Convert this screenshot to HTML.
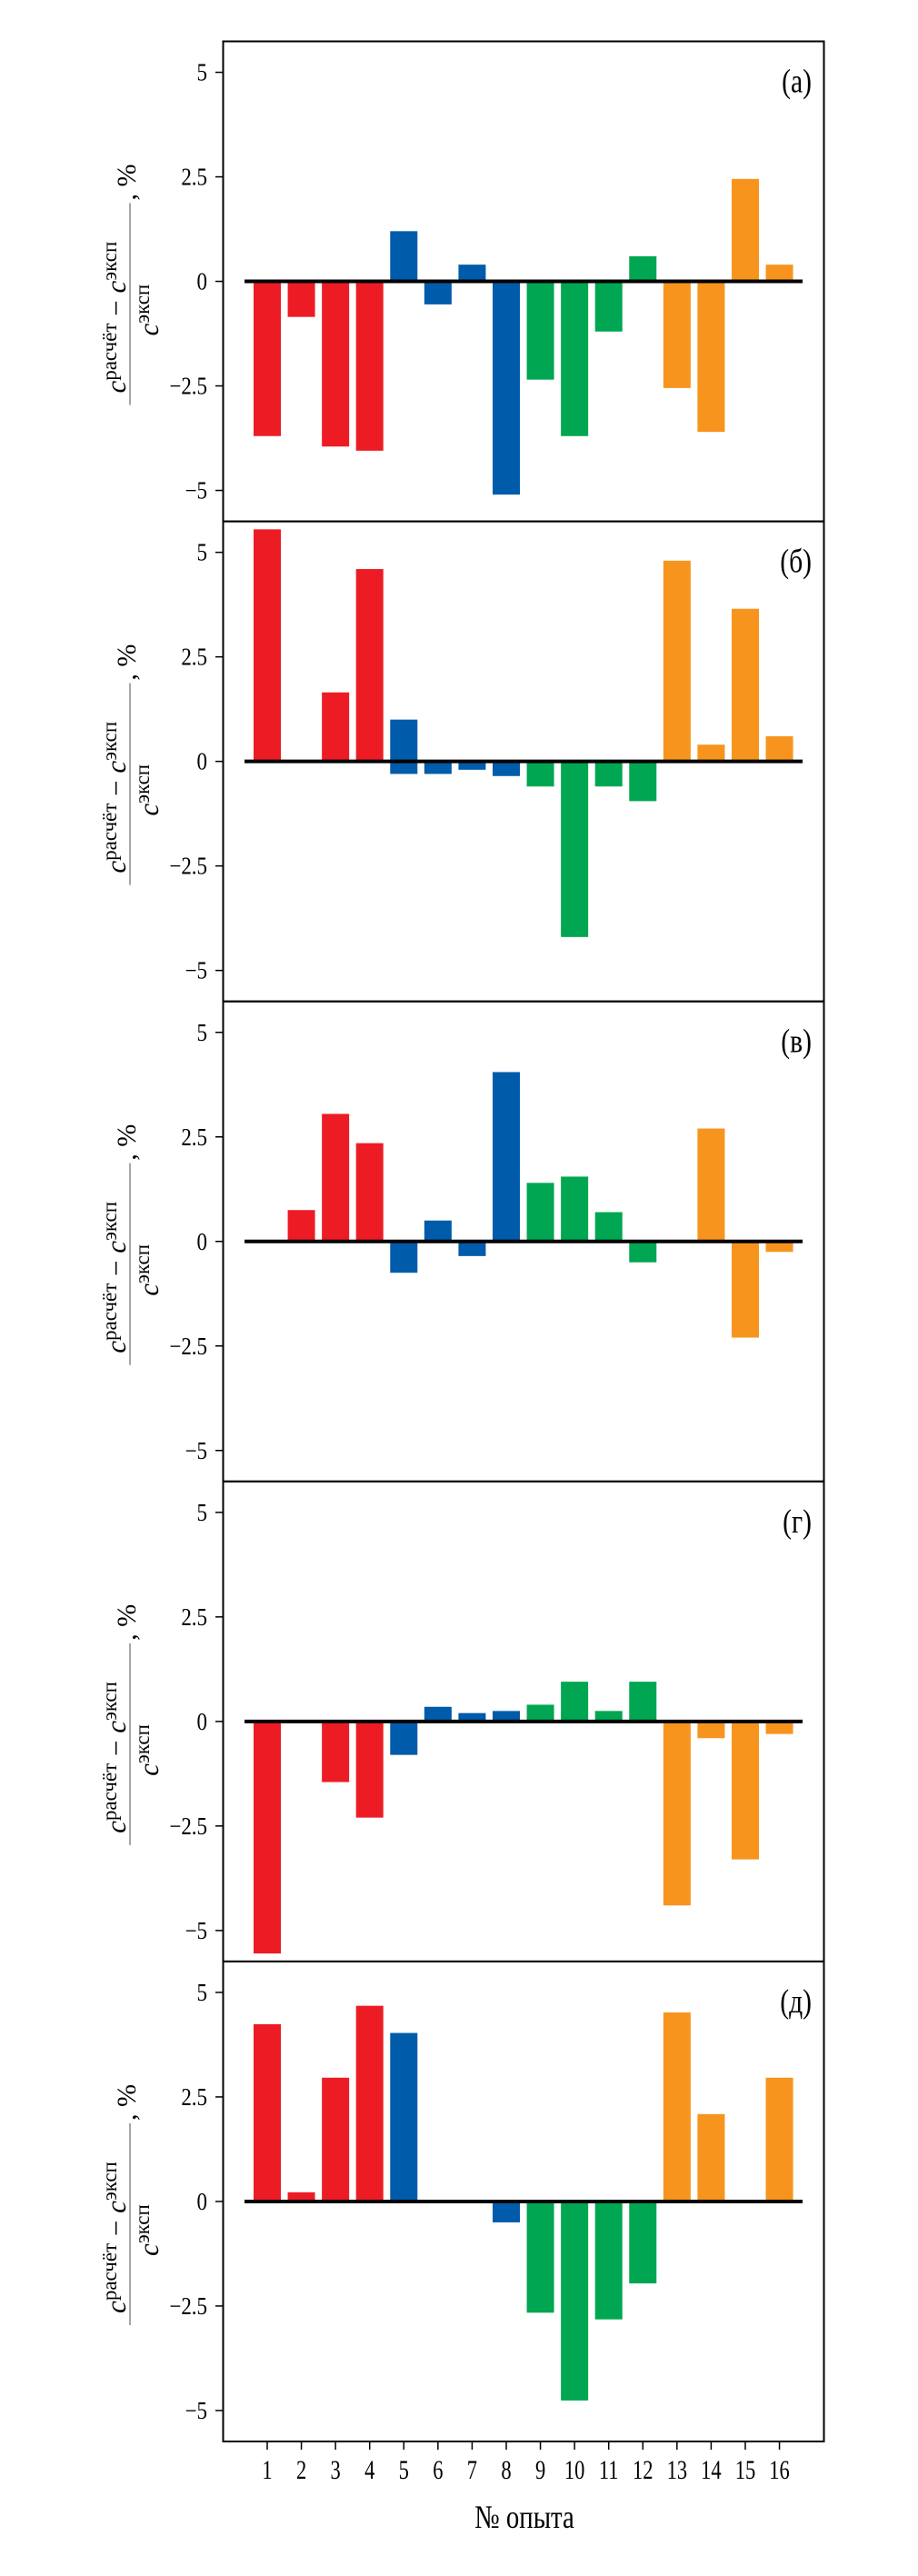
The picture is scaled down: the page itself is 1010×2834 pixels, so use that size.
<!DOCTYPE html>
<html><head><meta charset="utf-8"><style>
html,body{margin:0;padding:0;background:#fff;}
svg{display:block;}
text{font-family:"Liberation Serif",serif;fill:#000;}
</style></head><body>
<svg id="chart" width="1010" height="2834" viewBox="0 0 1010 2834" xmlns="http://www.w3.org/2000/svg"></svg>
<script>
const experiments = [1,2,3,4,5,6,7,8,9,10,11,12,13,14,15,16];
const groupColors = ["#ed1c24","#ed1c24","#ed1c24","#ed1c24","#005baa","#005baa","#005baa","#005baa","#00a651","#00a651","#00a651","#00a651","#f7941d","#f7941d","#f7941d","#f7941d"];
const panelLabels = ["(а)","(б)","(в)","(г)","(д)"];
const yTicks = [5,2.5,0,-2.5,-5];
const yTickLabels = ["5","2.5","0","\u22122.5","\u22125"];
const valuesA = [-3.7,-0.85,-3.95,-4.05,1.2,-0.55,0.4,-5.1,-2.35,-3.7,-1.2,0.6,-2.55,-3.6,2.45,0.4];
const valuesB = [5.55,0,1.65,4.6,1.0,-0.3,-0.2,-0.35,-0.6,-4.2,-0.6,-0.95,4.8,0.4,3.65,0.6];
const valuesBneg = [0,0,0,0,-0.3,0,0,0,0,0,0,0,0,0,0,0];
const valuesC = [0,0.75,3.05,2.35,-0.75,0.5,-0.35,4.05,1.4,1.55,0.7,-0.5,0,2.7,-2.3,-0.25];
const valuesD = [-5.55,0,-1.45,-2.3,-0.8,0.35,0.2,0.25,0.4,0.95,0.25,0.95,-4.4,-0.4,-3.3,-0.3];
const valuesE = [4.24,0.22,2.96,4.68,4.03,0,0,-0.5,-2.66,-4.76,-2.82,-1.96,4.52,2.09,0,2.96];
const panelValues = [valuesA,valuesB,valuesC,valuesD,valuesE];
const panelExtra = [null,valuesBneg,null,null,null];

const NS="http://www.w3.org/2000/svg";
const svg=document.getElementById('chart');
const L=245.5,R=906.5,TOP=45.5,PH=528.1;
function mk(tag,attrs,parent){const e=document.createElementNS(NS,tag);for(const k in attrs)e.setAttribute(k,attrs[k]);(parent||svg).appendChild(e);return e;}
function xPos(i){return 294+i*37.57;}
function yScale(p,v){const top=TOP+p*PH;return top+PH/2 - v*(230/5);}
function ctext(x,y,size,anchor,sx,parent){
  const t=mk('text',{x:0,y:0,'text-anchor':anchor,'font-size':size,transform:'translate('+x+','+y+') scale('+sx+',1)'},parent);
  return t;
}

panelValues.forEach((vals,p)=>{
  const g=mk('g',{});
  
  
  const top=TOP+p*PH;
  const bw=30;
  function bar(v,i,name){
    if(v===0)return;
    const y0=yScale(p,0),y1=yScale(p,v);
    const r=mk('rect',{x:xPos(i)-bw/2,y:Math.min(y0,y1),width:bw,height:Math.abs(y1-y0),fill:groupColors[i]},g);
    
    
  }
  vals.forEach((v,i)=>bar(v,i,'bar-'+experiments[i]));
  if(panelExtra[p])panelExtra[p].forEach((v,i)=>bar(v,i,'bar-neg-'+experiments[i]));
  const z=mk('line',{x1:269,x2:883,y1:yScale(p,0),y2:yScale(p,0),stroke:'#000','stroke-width':4},g);
  
  
  const fr=mk('rect',{x:L,y:top,width:R-L,height:PH,fill:'none',stroke:'#000','stroke-width':2},g);
  
  
  yTicks.forEach((t,k)=>{
    const y=yScale(p,t);
    mk('line',{x1:237,x2:L,y1:y,y2:y,stroke:'#000','stroke-width':1.5},g);
    const tx=ctext(228,y+9,27,'end',0.85,g);
    tx.textContent=yTickLabels[k];
    
    
  });
  const pl=ctext(893,top+56,37,'end',0.8,g);
  pl.textContent=panelLabels[p];
  
  
  const cy=top+PH/2+25;
  const yt=mk('g',{transform:'translate(143,'+cy+') rotate(-90)'},g);
  
  
  mk('line',{x1:-111,x2:111,y1:0,y2:0,stroke:'#888','stroke-width':1.5},yt);
  const num=mk('text',{x:-98,y:-5,'font-size':31},yt);
  num.innerHTML='<tspan font-style="italic">c</tspan><tspan font-size="23" dy="-10">расчёт</tspan><tspan dy="10"> − </tspan><tspan font-style="italic">c</tspan><tspan font-size="23" dy="-10">эксп</tspan>';
  const den=mk('text',{x:-35,y:31,'font-size':31},yt);
  den.innerHTML='<tspan font-style="italic">c</tspan><tspan font-size="23" dy="-10">эксп</tspan>';
  const pc=mk('text',{x:114,y:6,'font-size':30},yt);
  pc.textContent=', %';
});
const bottom=TOP+5*PH;
experiments.forEach((n,i)=>{
  mk('line',{x1:xPos(i),x2:xPos(i),y1:bottom,y2:bottom+9,stroke:'#000','stroke-width':1.5});
  const t=ctext(xPos(i),2727,30,'middle',0.75);
  t.textContent=n;
  
  
});
const xt=ctext(577,2781,36,'middle',0.8);
xt.textContent='№ опыта';


</script>
</body></html>
